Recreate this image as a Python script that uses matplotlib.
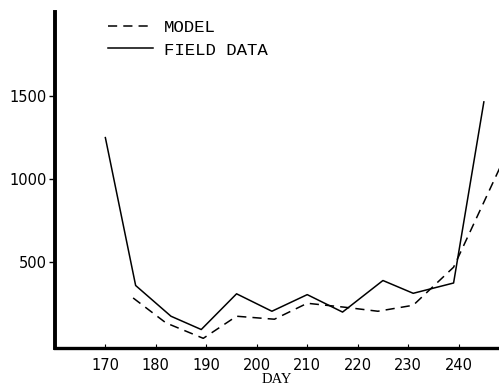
import matplotlib.pyplot as plt

# day of year and counts
FIELD_DAY = [170, 176, 183, 189, 196, 203, 210, 217, 225, 231, 239, 245]
FIELD_VALUE = [1250, 360, 175, 95, 310, 205, 305, 200, 390, 313, 375, 1465]

MODEL_DAY = [175.5, 182, 189.4, 196, 203.5, 210, 217.5, 224, 231, 239, 248.5]
MODEL_VALUE = [285, 135, 42, 175, 157, 253, 229, 205, 241, 470, 1090]

X_TICKS = [170, 180, 190, 200, 210, 220, 230, 240]
Y_TICKS = [500, 1000, 1500]

MONO = "Liberation Mono"

fig = plt.figure(figsize=(4.99, 3.87), dpi=100)
ax = fig.add_axes([0.110, 0.100, 0.89, 0.869])

ax.plot(MODEL_DAY, MODEL_VALUE, color="black", linewidth=1.1,
        linestyle=(0, (6, 4)), label="MODEL")
ax.plot(FIELD_DAY, FIELD_VALUE, color="black", linewidth=1.1,
        linestyle="-", label="FIELD DATA")

ax.set_xlim(160, 248)
ax.set_ylim(-18, 2006)

for side in ["top", "right"]:
    ax.spines[side].set_visible(False)
ax.spines["left"].set_linewidth(2.8)
ax.spines["bottom"].set_linewidth(2.4)

ax.set_xticks(X_TICKS)
ax.set_yticks(Y_TICKS)
ax.tick_params(axis="y", direction="out", length=4, width=1, labelsize=10.5,
               pad=2, colors="black")
ax.tick_params(axis="x", direction="in", length=3, width=0.8, labelsize=10.5,
               pad=7, colors="black")

ax.set_xlabel("DAY", fontsize=10.5, family="Liberation Serif", labelpad=0)

ax.legend(loc="upper left", bbox_to_anchor=(0.104, 0.997), frameon=False,
          borderaxespad=0, handlelength=2.6, handletextpad=0.63,
          labelspacing=0.42, prop={"family": MONO, "size": 12.5})

fig.savefig("out.png", dpi=100)
